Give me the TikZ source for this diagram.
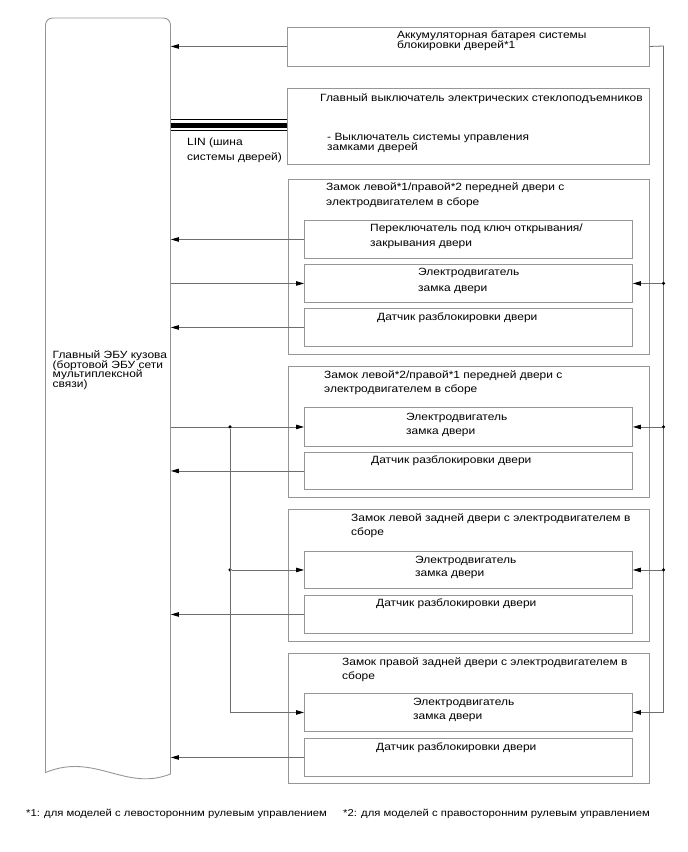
\documentclass[tikz,border=0pt]{standalone}
\usepackage{fontspec}
\setmainfont[FakeStretch=1.14]{Liberation Sans}
\usetikzlibrary{arrows.meta, positioning, calc}
\definecolor{BoxGrey}{HTML}{969696}
\definecolor{WireGrey}{HTML}{6E6E6E}
\setlength{\lineskiplimit}{-20pt}

\begin{document}
\begin{tikzpicture}[x=1pt, y=-1pt,
  box/.style={draw=BoxGrey, line width=0.9pt, inner sep=0pt, anchor=north west},
  txt/.style={anchor=north west, inner sep=0pt, align=left,
    font={\fontsize{10.5}{#1}\selectfont},
    execute at begin node={\rule{0pt}{8pt}}},
  txt/.default=14,
  note/.style={txt, font={\fontsize{9.9}{12}\selectfont}},
  wire/.style={draw=WireGrey, line width=0.8pt},
  sig/.style={wire, -{Triangle[length=8pt, width=4.5pt, color=black]}},
  dot/.style={circle, fill=black, inner sep=0pt, minimum size=3.5pt}]
  \useasboundingbox (0,0) rectangle (688,852);

  % Body ECU (document shape)
  \node[anchor=north west, inner sep=0pt, minimum width=125pt, minimum height=755pt] (ecu) at (45.5,18) {};
  \draw[draw=BoxGrey, line width=0.9pt] (45.5,772.5) [rounded corners=7pt] -- (45.5,18) -- (170.5,18) -- (170.5,300)
    [sharp corners] -- (170.5,774) .. controls (125,792) and (95,752) .. (45.5,772.5) -- cycle;
  \node[txt=9.5] (ecutxt) at (52.5,350.7) {Главный ЭБУ кузова\\(бортовой ЭБУ сети\\мультиплексной\\связи)};

  % Battery and master switch
  \node[box, minimum width=362pt, minimum height=39pt] (bat) at (287,26.5) {};
  \node[txt=10] (battxt) at (397,30.7) {Аккумуляторная батарея системы\\блокировки дверей*1};
  \node[box, minimum width=362pt, minimum height=76pt] (sw) at (287,88) {};
  \node[txt] (swtxt) at (320,93.7) {Главный выключатель электрических стеклоподъемников};
  \node[txt=10.5] (swsub) at (327,132.7) {- Выключатель системы управления\\замками дверей};

  % Front door lock 1
  \node[box, minimum width=361pt, minimum height=175pt] (d1) at (288,179) {};
  \node[txt=15] (d1t) at (326,182.7) {Замок левой*1/правой*2 передней двери с\\электродвигателем в сборе};
  \node[box, minimum width=328pt, minimum height=38pt] (key1) at (304,220) {};
  \node[txt=14.5] (key1t) at (370,224) {Переключатель под ключ открывания/\\закрывания двери};
  \node[box, minimum width=328pt, minimum height=38pt] (m1) at (304,264) {};
  \node[txt=16] (m1t) at (418,267.7) {Электродвигатель\\замка двери};
  \node[box, minimum width=328pt, minimum height=38pt] (s1) at (304,308) {};
  \node[txt] (s1t) at (377,312.7) {Датчик разблокировки двери};

  % Front door lock 2
  \node[box, minimum width=361pt, minimum height=131pt] (d2) at (288,366) {};
  \node[txt] (d2t) at (324,370.7) {Замок левой*2/правой*1 передней двери с\\электродвигателем в сборе};
  \node[box, minimum width=328pt, minimum height=39pt] (m2) at (304,407) {};
  \node[txt] (m2t) at (406,412.7) {Электродвигатель\\замка двери};
  \node[box, minimum width=328pt, minimum height=37pt] (s2) at (304,452) {};
  \node[txt] (s2t) at (371,455.7) {Датчик разблокировки двери};

  % Rear left door lock
  \node[box, minimum width=361pt, minimum height=132pt] (d3) at (288,509) {};
  \node[txt] (d3t) at (351,513.7) {Замок левой задней двери с электродвигателем в\\сборе};
  \node[box, minimum width=328pt, minimum height=37pt] (m3) at (304,551) {};
  \node[txt=13] (m3t) at (415,555.7) {Электродвигатель\\замка двери};
  \node[box, minimum width=328pt, minimum height=38pt] (s3) at (304,595) {};
  \node[txt] (s3t) at (376,598.7) {Датчик разблокировки двери};

  % Rear right door lock
  \node[box, minimum width=361pt, minimum height=130pt] (d4) at (288,653) {};
  \node[txt=13.5] (d4t) at (342,657.7) {Замок правой задней двери с электродвигателем в\\сборе};
  \node[box, minimum width=328pt, minimum height=38pt] (m4) at (304,693) {};
  \node[txt] (m4t) at (413,697.7) {Электродвигатель\\замка двери};
  \node[box, minimum width=328pt, minimum height=38pt] (s4) at (304,738) {};
  \node[txt] (s4t) at (376,742.7) {Датчик разблокировки двери};

  % LIN bus
  \foreach \dy/\lw in {-7/0.8pt, -1/4.5pt, 4/0.8pt}
    \draw[line width=\lw] ($(sw.west)+(0,\dy)$) -- ($(sw.west -| ecu.east)+(0,\dy)$);
  \node[txt=15] (lintxt) at (187,137.7) {LIN (шина\\системы дверей)};

  % Signals to the ECU
  \foreach \src in {bat, key1, s1, s2, s3, s4}
    \draw[sig] (\src.west) -- (\src.west -| ecu.east);

  % Motor drive from the ECU
  \coordinate (lbus) at (230,0);
  \draw[sig] (m1.west -| ecu.east) -- (m1.west);
  \draw[sig] (m2.west -| ecu.east) -- (m2.west);
  \node[dot] (ld2) at (lbus |- m2.west) {};
  \node[dot] (ld3) at (lbus |- m3.west) {};
  \draw[sig] (ld3) -- (m3.west);
  \draw[sig] (ld2) |- (m4.west);

  % Battery supply
  \coordinate (rbus) at (663.5,46);
  \draw[sig] (bat.east) -- (rbus) |- (m4.east);
  \foreach \m in {m1, m2, m3} {
    \node[dot] (rd\m) at (rbus |- \m.east) {};
    \draw[sig] (rd\m) -- (\m.east);
  }

  % Footnotes
  \node[note] (fn1) at (26,808.7) {*1: для моделей с левосторонним рулевым управлением};
  \node[note] (fn2) at (343,808.7) {*2: для моделей с правосторонним рулевым управлением};
\end{tikzpicture}
\end{document}
